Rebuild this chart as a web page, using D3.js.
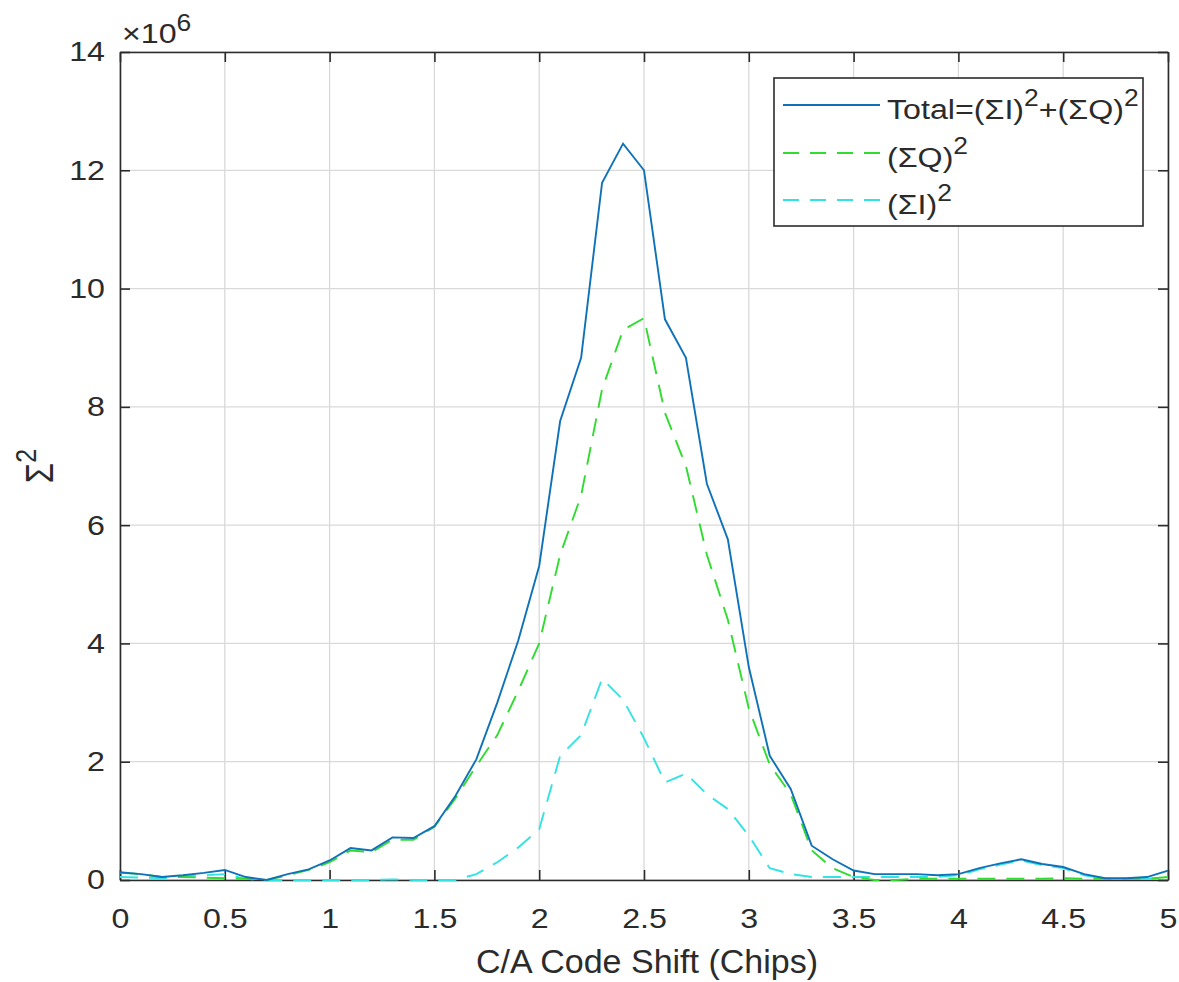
<!DOCTYPE html>
<html><head><meta charset="utf-8">
<script src="https://cdn.jsdelivr.net/npm/d3@7"></script>
<style>
html,body{margin:0;padding:0;background:#fff;}
svg{display:block;font-family:"Liberation Sans",Arial,Helvetica,sans-serif;}
</style></head>
<body>
<svg id="chart" width="1179" height="982"></svg>
<script>
const shift = [0,0.1,0.2,0.3,0.4,0.5,0.6,0.7,0.8,0.9,1.0,1.1,1.2,1.3,1.4,1.5,1.6,1.7,1.8,1.9,2.0,2.1,2.2,2.3,2.4,2.5,2.6,2.7,2.8,2.9,3.0,3.1,3.2,3.3,3.4,3.5,3.6,3.7,3.8,3.9,4.0,4.1,4.2,4.3,4.4,4.5,4.6,4.7,4.8,4.9,5.0];
const total = [0.13,0.10,0.05,0.08,0.12,0.17,0.05,0.00,0.10,0.18,0.33,0.54,0.50,0.72,0.71,0.91,1.42,2.04,3.00,4.05,5.31,7.76,8.83,11.79,12.45,12.00,9.48,8.83,6.70,5.76,3.60,2.10,1.54,0.58,0.35,0.16,0.10,0.10,0.10,0.08,0.10,0.20,0.28,0.35,0.27,0.22,0.10,0.03,0.03,0.05,0.16];
const sumQ2 = [0.12,0.10,0.05,0.05,0.04,0.03,0.02,0.00,0.08,0.17,0.30,0.50,0.47,0.68,0.68,0.90,1.38,1.93,2.45,3.20,4.00,5.50,6.50,8.30,9.30,9.50,7.90,7.00,5.50,4.40,2.90,1.95,1.45,0.50,0.20,0.05,0.00,0.00,0.02,0.02,0.02,0.02,0.02,0.02,0.02,0.03,0.02,0.02,0.02,0.02,0.05];
const sumI2 = [0.05,0.04,0.03,0.06,0.08,0.10,0.02,0.00,0.00,0.00,0.00,0.00,0.00,0.01,0.00,0.00,0.00,0.10,0.30,0.55,0.86,2.10,2.45,3.40,3.05,2.40,1.65,1.80,1.45,1.20,0.75,0.20,0.10,0.05,0.05,0.05,0.05,0.05,0.05,0.05,0.08,0.18,0.26,0.33,0.25,0.20,0.08,0.02,0.02,0.02,0.03];
const xTicks = [0,0.5,1,1.5,2,2.5,3,3.5,4,4.5,5];
const yTicks = [0,2,4,6,8,10,12,14];

const svg = d3.select("#chart");
const L=120, R=1168, T=52, B=880;
const x = d3.scaleLinear().domain([0,5]).range([L,R]);
const y = d3.scaleLinear().domain([0,14]).range([B,T]);
const txt = "#2b2b2b";
const SX = 1.15;

// grid
const g = svg.append("g");
g.selectAll(".gx").data(xTicks).enter().append("line")
  .attr("x1",d=>x(d)).attr("x2",d=>x(d)).attr("y1",T).attr("y2",B)
  .attr("stroke","#d9d9d9").attr("stroke-width",1.3);
g.selectAll(".gy").data(yTicks).enter().append("line")
  .attr("y1",d=>y(d)).attr("y2",d=>y(d)).attr("x1",L).attr("x2",R)
  .attr("stroke","#d9d9d9").attr("stroke-width",1.3);

// axes
const fs = 28;
const xb = svg.append("g").attr("transform",`translate(0,${B})`)
  .call(d3.axisBottom(x).tickValues(xTicks).tickSizeInner(-10).tickSizeOuter(0).tickPadding(28).tickFormat(d3.format("")));
const xt = svg.append("g").attr("transform",`translate(0,${T})`)
  .call(d3.axisTop(x).tickValues(xTicks).tickSizeInner(-10).tickSizeOuter(0).tickFormat(""));
const yl = svg.append("g").attr("transform",`translate(${L},0)`)
  .call(d3.axisLeft(y).tickValues(yTicks).tickSizeInner(-10).tickSizeOuter(0).tickPadding(15).tickFormat(d3.format("")));
const yr = svg.append("g").attr("transform",`translate(${R},0)`)
  .call(d3.axisRight(y).tickValues(yTicks).tickSizeInner(-10).tickSizeOuter(0).tickFormat(""));
[xb,xt,yl,yr].forEach(a=>{
  a.selectAll("path").attr("stroke",txt).attr("stroke-width",1.6);
  a.selectAll("line").attr("stroke",txt).attr("stroke-width",1.6);
  a.selectAll("text").attr("fill",txt).attr("font-size",fs).attr("font-family","Liberation Sans, Arial, sans-serif");
});
xb.selectAll(".tick text").attr("transform",`scale(${SX},1)`);
yl.selectAll(".tick text").attr("x",-15/SX).attr("transform",`scale(${SX},1)`);

// lines
const line = arr => d3.line().x((d,i)=>x(shift[i])).y(d=>y(d))(arr);
const plot = svg.append("g");
plot.append("path").attr("d",line(sumI2)).attr("fill","none").attr("stroke","#33e3e3").attr("stroke-width",1.9).attr("stroke-dasharray","18,11");
plot.append("path").attr("d",line(sumQ2)).attr("fill","none").attr("stroke","#2fdc2f").attr("stroke-width",1.9).attr("stroke-dasharray","18,11");
plot.append("path").attr("d",line(total)).attr("fill","none").attr("stroke","#0f72b8").attr("stroke-width",1.9);

// legend
const lg = svg.append("g");
lg.append("rect").attr("x",774).attr("y",78).attr("width",369).attr("height",148)
  .attr("fill","#fff").attr("stroke",txt).attr("stroke-width",1.6);
const items = [
  {c:"#0f72b8", dash:null, parts:[["Total=(ΣI)",0],["2",1],["+(ΣQ)",0],["2",1]]},
  {c:"#2fdc2f", dash:"16,11", parts:[["(ΣQ)",0],["2",1]]},
  {c:"#33e3e3", dash:"16,11", parts:[["(ΣI)",0],["2",1]]}
];
const rowY=[105,153,200];
items.forEach((it,i)=>{
  const ln = lg.append("line").attr("x1",783).attr("x2",880).attr("y1",rowY[i]).attr("y2",rowY[i])
    .attr("stroke",it.c).attr("stroke-width",1.9);
  if(it.dash) ln.attr("stroke-dasharray",it.dash);
  const t = lg.append("text").attr("transform",`translate(887,${rowY[i]+14}) scale(${SX},1)`)
    .attr("font-size",28).attr("fill",txt);
  it.parts.forEach((p,k)=>{
    const ts = t.append("tspan").text(p[0]);
    if(p[1]) ts.attr("font-size",23).attr("dy",-13);
    else ts.attr("dy",k>0?13:0);
  });
});

// labels
svg.append("text").attr("x",647).attr("y",973).attr("text-anchor","middle")
  .attr("font-size",34).attr("fill",txt).text("C/A Code Shift (Chips)");
const yLab = svg.append("text").attr("transform","translate(53,466) rotate(-90) scale(1,1.15)")
  .attr("text-anchor","middle").attr("font-size",33).attr("fill",txt);
yLab.append("tspan").text("Σ");
yLab.append("tspan").attr("font-size",25).attr("dy",-15).text("2");
const ex = svg.append("text").attr("transform",`translate(122,43) scale(${SX},1)`).attr("font-size",28).attr("fill",txt);
ex.append("tspan").text("×10");
ex.append("tspan").attr("font-size",23).attr("dy",-12).text("6");
</script>
</body></html>
